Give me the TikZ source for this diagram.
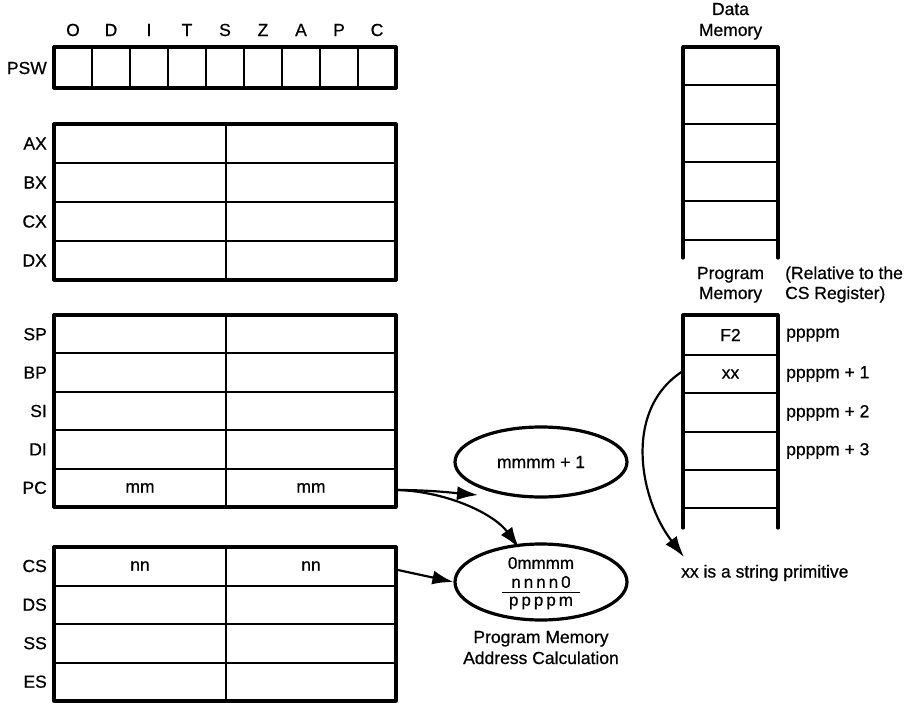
\documentclass[tikz,border=0pt]{standalone}
\usepackage{fontspec}
\setmainfont{Liberation Sans}[FakeBold=0.7]
\usetikzlibrary{arrows.meta,shapes.geometric}
\begin{document}
\begin{tikzpicture}[x=1pt,y=-1pt,
  font=\fontsize{17.5}{21}\selectfont,
  outer/.style={line width=3.2pt, line join=round, line cap=round},
  inner/.style={line width=2pt},
  lbl/.style={anchor=east, inner sep=0pt},
  txt/.style={inner sep=0pt},
  conn/.style={line width=2.2pt, -{Latex[length=21pt,width=14pt]}},
  ell/.style={ellipse, draw, line width=3.2pt, minimum width=172pt, minimum height=70pt, inner sep=0pt}]
\useasboundingbox (0,0) rectangle (920,703);

% PSW
\draw[outer] (54,47) rectangle (396,88);
\foreach \i in {1,...,8} \draw[inner] (54+38*\i,47) -- (54+38*\i,88);
\foreach \f [count=\i] in {O,D,I,T,S,Z,A,P,C}
  \node[txt] (flag\i) at (54+38*\i-19,30) {\f};
\node[lbl] (psw) at (47,68) {PSW};

% AX..DX
\draw[outer] (54,124) rectangle (396,280);
\draw[inner] (226,124) -- (226,280);
\foreach \y in {163,202,241} \draw[inner] (54,\y) -- (396,\y);
\node[lbl] (ax) at (47,143.5) {AX};
\node[lbl] (bx) at (47,182.5) {BX};
\node[lbl] (cx) at (47,221.5) {CX};
\node[lbl] (dx) at (47,260.5) {DX};

% SP..PC
\draw[outer] (54,315) rectangle (396,507);
\draw[inner] (226,315) -- (226,507);
\foreach \y in {353.4,391.8,430.2,468.6} \draw[inner] (54,\y) -- (396,\y);
\node[lbl] (sp) at (47,334.2) {SP};
\node[lbl] (bp) at (47,372.6) {BP};
\node[lbl] (si) at (47,411) {SI};
\node[lbl] (di) at (47,449.4) {DI};
\node[lbl] (pc) at (47,487.8) {PC};
\node[txt] (pclo) at (140,487.8) {mm};
\node[txt] (pchi) at (311,487.8) {mm};

% CS..ES
\draw[outer] (54,547) rectangle (396,701);
\draw[inner] (226,547) -- (226,701);
\foreach \y in {585.5,624,662.5} \draw[inner] (54,\y) -- (396,\y);
\node[lbl] (cs) at (47,566) {CS};
\node[lbl] (ds) at (47,604.7) {DS};
\node[lbl] (ss) at (47,643.2) {SS};
\node[lbl] (es) at (47,681.7) {ES};
\node[txt] (cslo) at (140,566) {nn};
\node[txt] (cshi) at (311,566) {nn};

% Data memory
\node[txt, anchor=base] (dmhead1) at (730.5,15) {Data};
\node[txt, anchor=base] (dmhead2) at (730.5,36) {Memory};
\draw[outer] (683,258) -- (683,47) -- (778,47) -- (778,258);
\foreach \y in {85,124,162,201,240} \draw[inner] (683,\y) -- (778,\y);

% Program memory
\node[txt, anchor=base] (pmhead1) at (730.5,279) {Program};
\node[txt, anchor=base] (pmhead2) at (730.5,299) {Memory};
\node[txt, anchor=base west] (relhead1) at (785,279) {(Relative to the};
\node[txt, anchor=base west] (relhead2) at (785,299) {CS Register)};
\draw[outer] (683,528) -- (683,315) -- (778,315) -- (778,528);
\foreach \y in {355,393,432,470,508} \draw[inner] (683,\y) -- (778,\y);
\node[txt] (f2) at (730.5,335) {F2};
\node[txt] (xx) at (730.5,374) {xx};
\node[txt, anchor=west] (a0) at (786,335) {ppppm};
\node[txt, anchor=west] (a1) at (786,374) {ppppm + 1};
\node[txt, anchor=west] (a2) at (786,413) {ppppm + 2};
\node[txt, anchor=west] (a3) at (786,451) {ppppm + 3};
\node[txt, anchor=west] (prim) at (681,573) {xx is a string primitive};

% Ellipses
\node[ell] (inc) at (541,462) {mmmm + 1};
\node[ell, minimum height=76pt] (addr) at (541,582) {};
\begin{scope}[font=\fontsize{17}{19}\selectfont]
\node[txt] (l1) at (541,563) {0mmmm};
\node[txt] (l2) at (541,582) {n\kern3pt n\kern3pt n\kern3pt n\kern3pt 0};
\node[txt] (l3) at (541,603) {p\kern3pt p\kern3pt p\kern3pt p\kern3pt m};
\end{scope}
\draw[line width=1.8pt] (502,592.5) -- (580,592.5);
\node[txt, anchor=base] (cap1) at (541,643) {Program Memory};
\node[txt, anchor=base] (cap2) at (541,664) {Address Calculation};

% Connectors
\coordinate (pcout) at (398,490);
\coordinate (incin) at (478,495);
\coordinate (addrin) at (519,548);
\coordinate (csout) at (398,570);
\coordinate (xxl) at (683,371);
\coordinate (xxend) at (684,557);
\draw[conn] (pcout) .. controls (430,490) and (455,493) .. (incin);
\draw[conn] (pcout) .. controls (450,492) and (495,515) .. (addrin);
\draw[conn] (csout) -- (addr.west);
\draw[conn] (xxl) .. controls (622,410) and (640,500) .. (xxend);
\end{tikzpicture}
\end{document}
